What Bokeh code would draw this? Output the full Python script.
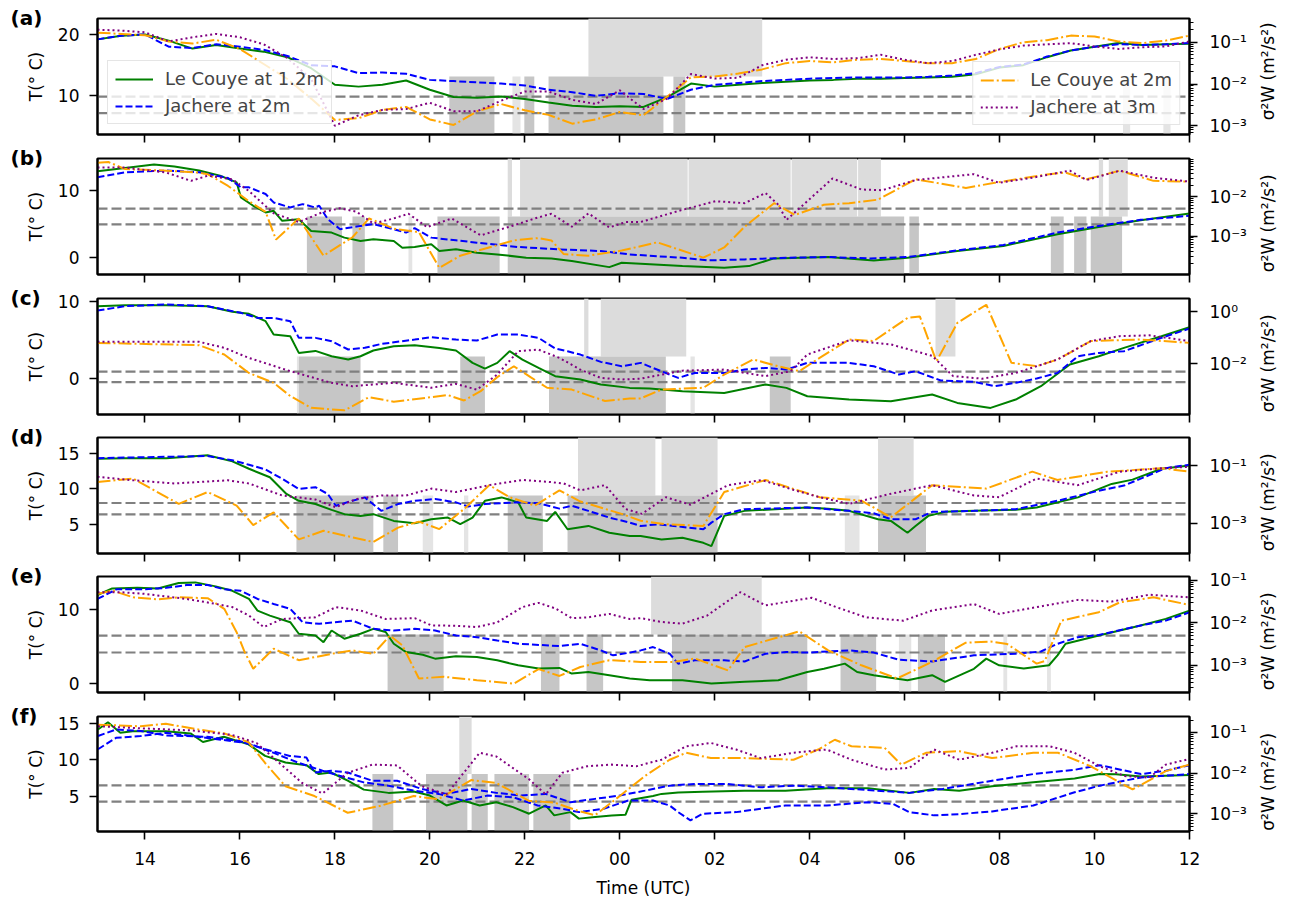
import math
import numpy as np
from bokeh.plotting import figure
from bokeh.layouts import column
from bokeh.models import (Range1d, LogScale, LogAxis, FixedTicker, CustomJSTickFormatter,
                          Legend, LegendItem)
from bokeh.embed import file_html
from bokeh.resources import INLINE

FONT = "DejaVu Sans"

# Time is in hours from 00 UTC of the first day: 13 -> 13:00, 36 -> 12:00 the next day.
# sigma^2 W values are stored as log10(m^2/s^2).

# ---------------- panel (a) ----------------
a_t = [13.0, 13.5, 14.0, 14.5, 15.0, 15.5, 16.0, 16.5, 17.0, 17.5, 18.0, 18.5, 19.0, 19.5, 20.0, 20.5,
       21.0, 21.5, 22.0, 22.5, 23.0, 23.5, 24.0, 24.5, 25.0, 25.5, 26.0, 26.5, 27.0, 27.5, 28.0, 28.5,
       29.0, 29.5, 30.0, 30.5, 31.0, 31.5, 32.0, 32.5, 33.0, 33.5, 34.0, 34.5, 35.0, 35.5, 36.0]
a_couye_T = [19.2, 19.8, 20.0, 19.0, 17.7, 18.3, 17.7, 17.2, 16.3, 14.5, 11.8, 11.5, 11.8, 12.5, 11.0, 9.8,
             9.7, 9.9, 9.5, 8.9, 8.4, 8.2, 8.3, 8.2, 9.8, 12.0, 11.5, 11.8, 12.1, 12.3, 12.5, 12.6,
             12.8, 12.8, 12.9, 13.0, 13.1, 13.5, 14.6, 15.0, 16.3, 17.4, 18.0, 18.6, 18.3, 18.4, 18.5]
a_jachere_T = [19.2, 19.8, 20.0, 18.0, 17.8, 18.4, 18.0, 17.5, 16.5, 15.0, 14.8, 13.7, 13.8, 13.6, 12.6, 12.4,
               12.2, 12.0, 11.7, 11.0, 10.6, 10.0, 10.4, 10.3, 9.5, 11.0, 11.8, 12.1, 12.4, 12.6, 12.8, 12.9,
               13.0, 13.0, 13.0, 13.1, 13.3, 13.7, 14.7, 15.1, 16.4, 17.4, 18.0, 18.4, 18.3, 18.4, 18.6]
a_couye_sw = [-0.77, -0.80, -0.83, -0.98, -1.03, -0.94, -1.16, -1.52, -1.88, -2.35, -2.86, -2.82, -2.62, -2.55,
              -2.85, -2.98, -2.65, -2.48, -2.63, -2.74, -2.95, -2.85, -2.67, -2.75, -2.30, -1.84, -1.82, -1.75,
              -1.65, -1.50, -1.45, -1.48, -1.42, -1.40, -1.45, -1.50, -1.50, -1.40, -1.16, -1.00, -0.95, -0.84,
              -0.86, -0.98, -1.02, -0.96, -0.84]
a_jachere_sw = [-0.70, -0.72, -0.76, -0.98, -0.88, -0.80, -0.88, -1.05, -1.38, -1.88, -3.00, -2.75, -2.62, -2.60,
                -2.45, -2.65, -2.65, -2.40, -2.18, -2.18, -2.38, -2.48, -2.15, -2.60, -2.35, -1.76, -1.87, -1.85,
                -1.55, -1.42, -1.36, -1.40, -1.38, -1.30, -1.42, -1.50, -1.45, -1.30, -1.17, -1.08, -1.05, -1.02,
                -1.10, -1.16, -1.12, -1.10, -0.98]
a_low = [(20.41, 21.36), (21.99, 22.2), (22.5, 24.92), (25.13, 25.38)]
a_faint = [(21.74, 21.91), (34.6, 34.75), (35.45, 35.6)]
a_high = [(23.34, 27.0)]

# ---------------- panel (b) ----------------
b_couye_T_t = [13.0, 13.58, 14.19, 14.62, 15.14, 15.58, 15.93, 16.02, 16.28, 16.54, 16.71, 16.89, 17.24, 17.5,
               17.93, 18.2, 18.54, 18.81, 19.24, 19.42, 19.68, 20.03, 20.2, 20.55, 20.99, 21.42, 22.03, 22.56,
               22.99, 23.78, 24.04, 24.44, 25.32, 26.2, 26.72, 27.25, 28.39, 29.35, 30.06, 31.11, 32.08, 33.22,
               34.09, 34.97, 36.0]
b_couye_T = [12.9, 13.4, 13.9, 13.6, 13.0, 12.25, 11.25, 9.0, 7.75, 6.75, 7.0, 5.5, 5.75, 4.0, 3.75, 3.0, 2.5,
             2.75, 2.5, 1.5, 1.6, 2.0, 1.0, 1.25, 0.75, 0.5, 0.0, -0.1, -0.5, -1.4, -0.75, -0.9, -1.25, -1.5,
             -1.25, -0.1, 0.1, -0.4, 0.0, 1.0, 1.75, 3.5, 4.6, 5.6, 6.6]
b_jachere_T_t = [13.0, 13.58, 14.45, 15.14, 15.75, 16.02, 16.19, 16.54, 16.71, 17.06, 17.32, 17.58, 17.67, 17.85,
                 18.11, 18.54, 18.81, 19.16, 19.5, 19.68, 20.03, 20.55, 20.99, 21.86, 22.73, 23.6, 24.21, 24.6,
                 25.32, 25.84, 26.63, 27.51, 28.39, 29.27, 30.06, 31.11, 32.08, 33.22, 34.09, 34.97, 36.0]
b_jachere_T = [12.0, 12.75, 13.0, 12.75, 11.9, 10.5, 10.5, 9.5, 8.25, 7.5, 8.0, 7.5, 7.75, 5.75, 4.25, 4.75, 5.0,
               4.4, 3.75, 4.4, 3.0, 2.6, 2.25, 1.6, 1.25, 1.0, 0.5, 0.3, 0.0, -0.4, -0.25, 0.0, 0.1, -0.1, 0.1,
               1.1, 1.9, 3.75, 4.75, 5.65, 6.25]
b_couye_sw_t = [13.0, 13.23, 13.58, 14.45, 15.14, 15.32, 15.75, 16.19, 16.54, 16.76, 17.24, 17.76, 18.37, 18.72,
                19.24, 19.77, 20.2, 20.64, 21.77, 22.29, 22.56, 22.82, 23.34, 24.04, 24.79, 25.76, 26.2, 26.63,
                27.25, 27.69, 28.3, 28.83, 29.44, 30.23, 31.29, 31.9, 33.04, 33.39, 33.83, 34.53, 35.24, 36.0]
b_couye_sw = [-1.13, -1.11, -1.29, -1.33, -1.38, -1.42, -1.72, -2.11, -2.38, -3.09, -2.55, -3.50, -3.03, -2.55,
              -2.81, -2.90, -3.81, -3.50, -3.11, -3.05, -3.11, -3.46, -3.50, -3.37, -3.16, -3.55, -3.29, -2.76,
              -2.16, -2.46, -2.20, -2.16, -2.07, -1.55, -1.77, -1.64, -1.42, -1.38, -1.55, -1.33, -1.59, -1.61]
b_jachere_sw_t = [13.0, 13.58, 14.45, 14.97, 15.32, 15.84, 16.19, 16.71, 17.24, 17.76, 18.11, 18.46, 18.81, 19.24,
                  19.55, 19.94, 20.46, 21.07, 21.68, 22.21, 22.56, 22.99, 23.34, 23.78, 24.13, 24.44, 25.32, 26.02,
                  26.63, 27.07, 27.34, 27.51, 28.48, 29.09, 29.53, 30.23, 31.46, 31.99, 32.69, 33.48, 33.83, 34.53,
                  35.24, 36.0]
b_jachere_sw = [-1.25, -1.25, -1.38, -1.59, -1.46, -1.55, -1.85, -2.42, -2.64, -2.38, -2.29, -2.38, -2.68, -2.55,
                -2.43, -2.77, -2.55, -2.98, -2.76, -2.55, -2.43, -2.76, -2.42, -2.78, -2.64, -2.64, -2.33, -2.11,
                -2.16, -1.90, -2.20, -2.59, -1.53, -1.81, -1.83, -1.57, -1.42, -1.64, -1.51, -1.33, -1.57, -1.33,
                -1.51, -1.61]
b_low = [(17.41, 18.15), (18.37, 18.63), (20.16, 21.47), (21.64, 29.99), (30.1, 30.3), (33.08, 33.35),
         (33.57, 33.83), (33.92, 34.58)]
b_faint = [(19.55, 19.63)]
b_high = [(21.64, 21.73), (21.9, 25.43), (25.45, 27.6), (27.62, 29.0), (29.02, 29.5), (34.09, 34.18), (34.3, 34.7)]

# ---------------- panel (c) ----------------
c_couye_T_t = [13.0, 13.58, 14.45, 15.32, 15.84, 16.19, 16.54, 16.71, 17.06, 17.24, 17.59, 17.93, 18.28, 18.54,
               18.81, 19.24, 19.68, 20.2, 20.55, 20.9, 21.16, 21.42, 21.68, 21.95, 22.29, 22.64, 23.17, 23.6, 24.21,
               24.63, 25.32, 26.2, 27.07, 27.51, 27.95, 28.83, 29.71, 30.58, 31.11, 31.81, 32.34, 32.87, 33.48,
               34.09, 34.62, 35.41, 36.0]
c_couye_T = [9.43, 9.55, 9.55, 9.43, 8.69, 8.43, 7.47, 5.73, 5.5, 3.34, 3.6, 2.9, 2.47, 2.9, 3.65, 4.21, 4.34,
             3.99, 3.65, 2.04, 1.3, 2.04, 3.56, 2.47, 1.38, 0.3, -0.13, -0.78, -1.22, -1.3, -1.66, -1.88, -0.78,
             -1.22, -2.31, -2.74, -2.96, -2.09, -3.18, -3.83, -2.74, -1.0, 1.83, 2.9, 3.99, 5.51, 6.69]
c_jachere_T_t = [13.0, 13.58, 14.45, 15.32, 16.02, 16.37, 16.71, 17.06, 17.24, 17.59, 17.93, 18.28, 18.63, 18.98,
                 19.68, 20.03, 20.55, 20.99, 21.42, 21.86, 22.29, 22.64, 22.9, 23.17, 23.6, 24.04, 24.44, 24.7,
                 25.23, 25.58, 26.2, 26.63, 27.07, 27.51, 27.95, 28.83, 29.35, 29.88, 30.23, 30.76, 31.46, 31.9,
                 32.34, 32.78, 33.22, 33.65, 34.09, 34.62, 35.41, 36.0]
c_jachere_T = [8.86, 9.43, 9.65, 9.43, 8.56, 7.9, 7.9, 7.47, 5.3, 5.3, 4.86, 3.78, 4.0, 4.51, 5.08, 5.38, 5.08,
               4.95, 5.73, 5.73, 5.3, 3.91, 3.56, 3.12, 2.17, 1.6, 2.04, 1.38, 0.08, 0.73, 0.73, 1.17, 1.38, 1.17,
               2.04, 2.04, 1.6, 0.52, 0.95, -0.26, -0.43, -1.0, -0.56, 0.0, 0.73, 2.9, 3.34, 3.56, 5.3, 6.52]
c_couye_sw_t = [13.0, 15.14, 15.67, 16.19, 16.71, 17.06, 17.5, 18.2, 18.37, 18.72, 19.24, 20.03, 20.38, 20.72,
                21.07, 21.42, 21.77, 22.12, 22.47, 22.99, 23.69, 24.21, 24.44, 24.88, 25.76, 26.2, 26.81, 27.34,
                27.78, 28.21, 28.83, 29.35, 30.06, 30.32, 30.67, 31.11, 31.72, 32.25, 32.78, 33.22, 33.92, 34.97,
                36.0]
c_couye_sw = [-1.19, -1.28, -1.64, -2.35, -2.73, -3.24, -3.69, -3.79, -3.63, -3.28, -3.46, -3.28, -3.2, -3.41,
              -3.05, -2.51, -2.09, -2.51, -2.92, -2.99, -3.43, -3.33, -3.33, -2.99, -2.92, -2.41, -1.83, -2.09,
              -2.28, -1.77, -1.06, -1.12, -0.23, -0.17, -1.9, -0.42, 0.28, -1.96, -2.09, -1.83, -1.12, -1.06, -1.19]
c_jachere_sw_t = [13.0, 15.14, 15.67, 16.19, 17.06, 17.93, 18.37, 19.24, 20.03, 20.55, 20.99, 21.42, 21.86, 22.29,
                  22.73, 23.17, 23.6, 24.04, 24.44, 25.32, 26.2, 27.07, 27.6, 27.95, 28.83, 29.71, 30.58, 31.02,
                  31.63, 32.34, 33.22, 33.92, 34.53, 35.15, 36.0]
c_jachere_sw = [-1.15, -1.15, -1.38, -1.77, -2.28, -2.73, -2.86, -2.73, -2.92, -2.77, -2.99, -2.41, -1.51, -1.45,
                -1.77, -2.22, -2.54, -2.6, -2.57, -2.26, -2.22, -2.47, -2.28, -1.64, -1.09, -1.25, -1.69, -2.47,
                -2.57, -2.35, -1.83, -1.12, -0.93, -0.9, -1.12]
c_low = [(17.24, 18.54), (20.64, 21.16), (22.51, 24.97), (27.16, 27.6)]
c_faint = [(17.2, 17.24), (25.49, 25.58)]
c_high = [(23.25, 23.34), (23.6, 25.4), (30.65, 31.07)]

# ---------------- panel (d) ----------------
d_couye_T_t = [13.0, 13.58, 14.45, 15.32, 15.84, 16.19, 16.63, 16.98, 17.24, 17.59, 17.93, 18.2, 18.54, 18.81,
               19.24, 19.68, 20.03, 20.38, 20.64, 20.9, 21.16, 21.51, 21.86, 22.03, 22.47, 22.64, 22.9, 23.34,
               23.78, 24.21, 24.44, 24.88, 25.32, 25.76, 25.93, 26.2, 26.63, 27.95, 28.39, 28.83, 29.44, 29.71,
               30.06, 30.23, 30.5, 30.85, 31.46, 32.34, 32.78, 33.65, 34.36, 34.8, 35.41, 36.0]
d_couye_T = [14.2, 14.3, 14.3, 14.7, 13.85, 12.82, 11.63, 9.3, 8.35, 7.89, 7.08, 6.48, 6.24, 6.48, 5.54, 5.21,
             5.77, 6.0, 5.1, 6.0, 8.35, 8.82, 8.13, 6.0, 5.54, 6.8, 4.37, 4.84, 3.89, 3.42, 3.42, 2.95, 3.2, 2.48,
             2.01, 6.24, 6.94, 7.41, 7.25, 6.94, 5.77, 5.54, 3.89, 4.83, 6.24, 6.8, 6.94, 7.08, 7.41, 8.82, 10.7,
             11.3, 12.82, 13.28]
d_jachere_T_t = [13.0, 15.32, 15.84, 16.19, 16.54, 16.89, 17.24, 17.59, 17.85, 18.02, 18.37, 18.63, 18.98, 19.33,
                 19.68, 20.11, 20.55, 20.81, 21.16, 21.86, 22.29, 22.73, 22.99, 23.34, 23.78, 24.21, 24.44, 24.79,
                 25.14, 25.76, 25.93, 26.2, 26.63, 27.95, 28.83, 29.35, 29.71, 30.23, 30.58, 31.46, 32.34, 33.22,
                 34.09, 34.62, 35.5, 36.0]
d_jachere_T = [14.3, 14.6, 14.0, 13.38, 12.72, 11.41, 10.0, 10.24, 9.3, 7.65, 8.35, 8.82, 6.94, 7.89, 8.35, 8.59,
               8.13, 7.55, 7.89, 8.13, 8.0, 7.25, 7.65, 6.94, 6.0, 5.3, 4.83, 5.06, 4.83, 4.37, 5.3, 6.48, 7.18,
               7.41, 6.94, 6.6, 5.77, 5.77, 6.8, 6.94, 7.18, 8.35, 9.76, 10.47, 12.9, 13.38]
d_couye_sw_t = [13.0, 13.75, 14.71, 15.32, 15.93, 16.28, 16.71, 17.24, 17.76, 18.81, 19.33, 19.77, 20.2, 20.72,
                21.25, 21.68, 22.21, 22.73, 23.17, 24.04, 24.44, 24.97, 25.76, 26.2, 27.07, 28.21, 29.09, 29.71,
                30.58, 31.72, 32.69, 33.22, 34.27, 35.41, 36.0]
d_couye_sw = [-1.57, -1.45, -2.33, -1.92, -2.39, -3.07, -2.63, -3.57, -3.27, -3.66, -3.16, -2.95, -3.21, -2.51,
              -1.68, -2.1, -2.39, -1.86, -2.25, -2.68, -2.92, -3.04, -3.1, -1.92, -1.5, -2.1, -2.22, -2.8, -1.68,
              -1.8, -1.21, -1.5, -1.21, -1.09, -1.21]
d_jachere_sw_t = [13.0, 13.75, 14.62, 15.75, 16.19, 16.89, 17.59, 18.02, 18.46, 18.98, 19.5, 20.03, 20.55, 21.25,
                  21.95, 22.47, 22.82, 23.17, 23.69, 24.12, 24.47, 24.97, 25.49, 25.93, 26.28, 26.99, 27.69, 28.21,
                  28.83, 29.71, 30.58, 31.46, 31.99, 32.78, 33.65, 34.53, 35.41, 36.0]
d_jachere_sw = [-1.39, -1.51, -1.62, -1.51, -1.62, -2.04, -2.18, -2.45, -2.16, -2.04, -2.04, -1.8, -1.92, -1.68,
                -1.5, -1.56, -1.62, -1.86, -1.68, -2.51, -2.68, -2.1, -2.36, -1.98, -1.68, -1.5, -1.86, -2.1, -2.33,
                -1.98, -1.68, -2.04, -2.1, -1.45, -1.68, -1.21, -1.09, -1.04]
d_low = [(17.19, 18.81), (19.02, 19.33), (21.64, 22.38), (22.9, 26.06), (29.44, 30.45)]
d_faint = [(19.85, 20.07), (20.72, 20.81), (28.74, 29.05)]
d_high = [(23.12, 24.75), (24.88, 26.06), (29.44, 30.19)]

# ---------------- panel (e) ----------------
e_couye_T_t = [13.0, 13.31, 13.84, 14.27, 14.71, 15.06, 15.49, 15.84, 16.19, 16.37, 16.63, 17.06, 17.24, 17.59,
               17.76, 17.93, 18.2, 18.54, 18.81, 19.07, 19.24, 19.5, 19.85, 20.11, 20.55, 20.99, 21.42, 21.86,
               22.29, 22.73, 22.99, 23.34, 23.78, 24.21, 24.63, 25.32, 25.93, 26.63, 27.34, 27.95, 28.3, 28.74,
               29.0, 29.35, 30.06, 30.58, 30.85, 31.46, 31.72, 31.99, 32.51, 33.04, 33.22, 33.39, 34.09, 34.97,
               35.5, 36.0]
e_couye_T = [12.03, 12.92, 13.0, 12.92, 13.65, 13.74, 13.2, 12.6, 11.49, 9.9, 9.23, 8.33, 6.76, 6.53, 5.62, 7.2,
             6.08, 6.76, 7.43, 7.0, 5.4, 4.27, 3.9, 3.38, 3.72, 3.6, 3.15, 2.47, 2.03, 2.12, 1.35, 1.57, 1.13,
             0.68, 0.45, 0.45, 0.0, 0.23, 0.45, 1.57, 2.0, 2.7, 1.57, 1.13, 0.45, 1.13, 0.23, 2.0, 3.38, 2.48,
             2.03, 2.48, 3.83, 5.4, 6.53, 7.88, 8.78, 9.9]
e_jachere_T_t = [13.0, 13.4, 14.01, 14.45, 14.88, 15.32, 15.67, 16.02, 16.37, 16.71, 17.06, 17.32, 17.67, 18.37,
                 18.81, 19.24, 19.68, 20.11, 20.55, 20.99, 21.42, 21.86, 22.73, 23.17, 23.6, 23.86, 24.21, 24.44,
                 24.7, 25.05, 25.23, 25.58, 26.2, 26.63, 27.07, 27.51, 27.95, 28.83, 29.35, 29.88, 30.58, 31.46,
                 32.34, 32.87, 33.22, 33.65, 34.09, 34.97, 35.5, 36.0]
e_jachere_T = [11.49, 12.8, 12.8, 13.0, 13.38, 13.38, 12.8, 12.6, 11.49, 10.81, 10.14, 8.33, 8.11, 8.55, 7.43,
               7.2, 7.43, 7.2, 6.53, 6.3, 5.85, 5.4, 5.09, 5.4, 4.5, 3.83, 4.2, 4.5, 4.95, 4.05, 2.7, 3.15, 3.15,
               3.0, 4.05, 4.28, 4.2, 4.5, 4.2, 3.23, 3.0, 3.83, 4.05, 4.35, 5.4, 6.3, 6.6, 7.88, 8.55, 9.68]
e_couye_sw_t = [13.0, 13.31, 13.75, 14.27, 14.71, 15.32, 15.67, 15.93, 16.1, 16.28, 16.71, 17.24, 17.93, 18.37,
                18.81, 19.16, 19.42, 19.77, 20.29, 20.99, 21.77, 22.29, 22.73, 23.17, 23.78, 24.44, 25.14, 25.58,
                26.28, 26.63, 27.78, 28.39, 29.09, 29.84, 30.58, 31.28, 31.81, 32.16, 32.78, 32.95, 33.3, 34.09,
                34.53, 35.24, 36.0]
e_couye_sw = [-1.32, -1.24, -1.40, -1.45, -1.40, -1.42, -1.67, -2.22, -2.69, -3.08, -2.61, -2.88, -2.73, -2.65,
              -2.73, -2.3, -2.53, -3.31, -3.27, -3.35, -3.43, -3.09, -3.25, -3.04, -2.88, -2.92, -2.92, -2.84,
              -3.12, -2.57, -2.2, -2.65, -3.0, -3.31, -2.92, -2.47, -2.44, -2.5, -2.96, -2.9, -1.95, -1.75, -1.52,
              -1.4, -1.58]
e_jachere_sw_t = [13.0, 13.49, 14.01, 14.88, 15.32, 15.84, 16.19, 16.5, 16.89, 17.59, 18.02, 18.54, 19.07, 19.68,
                  20.03, 20.55, 20.99, 21.42, 21.95, 22.29, 22.64, 22.99, 23.34, 23.78, 24.21, 24.44, 24.88, 25.32,
                  25.84, 26.54, 27.07, 28.04, 28.56, 29.18, 29.97, 30.58, 31.46, 31.99, 32.78, 33.65, 34.36, 35.15,
                  36.0]
e_jachere_sw = [-1.28, -1.28, -1.32, -1.44, -1.52, -1.63, -1.83, -2.1, -1.91, -1.87, -1.63, -1.71, -1.91, -1.89,
                -2.06, -2.07, -2.1, -1.99, -1.63, -1.53, -1.66, -1.89, -1.87, -1.79, -1.91, -1.89, -1.98, -2.02,
                -1.83, -1.28, -1.59, -1.41, -1.63, -1.87, -1.95, -1.71, -1.56, -1.79, -1.63, -1.46, -1.5, -1.34,
                -1.4]
e_low = [(19.11, 20.29), (22.34, 22.73), (23.3, 23.65), (25.1, 27.95), (28.65, 29.4), (30.28, 30.85)]
e_faint = [(29.88, 30.14), (32.08, 32.16), (33.0, 33.08)]
e_high = [(24.66, 26.99)]

# ---------------- panel (f) ----------------
f_couye_T_t = [13.01, 13.22, 13.48, 13.74, 14.44, 14.96, 15.22, 15.66, 16.18, 16.53, 16.96, 17.4, 17.66, 17.92,
               18.27, 18.61, 19.13, 19.66, 20.0, 20.35, 20.7, 21.05, 21.4, 21.75, 22.09, 22.44, 22.62, 22.96,
               23.14, 23.48, 23.83, 24.12, 24.25, 24.7, 24.88, 25.23, 25.75, 26.62, 27.49, 28.36, 29.23, 30.1,
               30.62, 31.15, 31.84, 32.71, 33.58, 34.11, 34.45, 34.98, 36.0]
f_couye_T = [14.2, 15.2, 13.74, 13.97, 13.97, 13.66, 12.47, 13.19, 12.15, 10.55, 9.63, 9.27, 8.04, 8.26, 7.12,
             5.89, 5.44, 5.62, 5.07, 3.7, 4.38, 3.7, 4.15, 3.47, 2.56, 3.7, 2.33, 2.78, 1.88, 2.1, 2.3, 2.4, 4.5,
             5.0, 5.3, 5.5, 5.6, 5.75, 5.75, 6.07, 6.07, 5.44, 5.98, 5.75, 6.35, 6.9, 7.44, 8.04, 8.0, 7.71, 7.9]
f_jachere_T_t = [13.01, 13.39, 13.91, 14.44, 15.31, 16.0, 16.53, 17.05, 17.4, 17.57, 17.92, 18.27, 18.79, 19.31,
                 19.83, 20.35, 20.87, 21.4, 21.92, 22.44, 22.96, 23.48, 24.0, 24.53, 25.05, 25.57, 26.27, 26.97,
                 27.66, 28.36, 29.41, 30.1, 30.8, 31.84, 32.71, 33.58, 34.11, 34.98, 35.5, 36.0]
f_jachere_T = [13.3, 14.2, 14.0, 13.38, 13.2, 12.6, 11.47, 10.55, 10.32, 8.26, 8.5, 8.26, 7.12, 7.12, 5.98, 5.3,
               5.98, 5.44, 5.07, 5.3, 4.15, 4.61, 5.07, 5.75, 6.44, 6.67, 6.67, 6.21, 6.44, 6.21, 5.75, 5.44,
               5.98, 7.12, 8.04, 8.63, 9.27, 8.04, 8.5, 9.27]
f_jachere_T2_t = [13.01, 13.39, 13.91, 14.44, 15.48, 16.18, 16.7, 17.22, 17.74, 18.1, 18.61, 19.13, 19.66, 20.18,
                  20.7, 21.22, 21.75, 22.27, 22.79, 23.14, 23.66, 24.18, 24.7, 25.05, 25.23, 25.49, 25.75, 26.45,
                  26.97, 27.49, 28.36, 29.23, 29.76, 30.1, 30.62, 31.15, 31.84, 32.71, 33.58, 34.11, 34.98, 36.0]
f_jachere_T2 = [11.47, 13.05, 13.3, 13.74, 12.9, 12.29, 11.0, 9.63, 8.5, 7.81, 6.89, 6.44, 5.75, 5.3, 4.38, 5.07,
                4.84, 3.7, 3.25, 2.78, 3.25, 4.38, 4.38, 3.7, 2.78, 1.64, 2.56, 2.78, 3.25, 3.7, 3.7, 4.15, 3.9,
                2.78, 2.33, 2.5, 2.88, 3.7, 5.52, 6.44, 7.58, 8.04]
f_couye_sw_t = [13.01, 13.91, 14.44, 15.13, 15.66, 16.18, 16.53, 16.96, 17.57, 18.27, 18.96, 19.66, 20.18, 20.87,
                21.4, 22.09, 22.62, 23.14, 23.48, 24.0, 24.53, 25.05, 25.4, 25.92, 26.62, 27.66, 28.18, 28.53,
                28.88, 29.58, 29.93, 30.45, 31.15, 31.84, 32.71, 33.23, 33.92, 34.8, 35.5, 36.0]
f_couye_sw = [-0.81, -0.85, -0.79, -0.93, -1.02, -1.24, -1.75, -2.32, -2.56, -2.97, -2.80, -2.56, -2.64, -2.17,
              -2.24, -2.68, -2.72, -2.93, -3.03, -2.56, -2.07, -1.67, -1.50, -1.63, -1.63, -1.67, -1.42, -1.18,
              -1.34, -1.38, -1.79, -1.50, -1.46, -1.63, -1.50, -1.50, -1.83, -2.40, -1.95, -1.79]
f_jachere_sw_t = [13.01, 13.91, 14.96, 15.83, 16.35, 16.87, 17.31, 17.74, 18.27, 18.79, 19.31, 19.83, 20.35,
                  21.05, 21.4, 22.09, 22.44, 22.79, 23.31, 23.83, 24.35, 24.88, 25.4, 25.92, 26.45, 26.97, 27.66,
                  28.36, 28.88, 29.58, 30.1, 30.62, 31.15, 31.84, 32.36, 33.06, 33.58, 34.11, 34.63, 35.15, 35.5,
                  36.0]
f_jachere_sw = [-0.85, -0.90, -0.95, -1.06, -1.26, -1.79, -2.24, -2.50, -1.99, -1.79, -1.81, -2.32, -2.52, -1.50,
                -1.59, -2.15, -2.52, -1.99, -1.83, -1.79, -1.83, -1.67, -1.34, -1.26, -1.42, -1.63, -1.50, -1.42,
                -1.67, -1.91, -1.87, -1.42, -1.67, -1.50, -1.34, -1.34, -1.50, -1.83, -2.07, -2.11, -1.79, -1.65]
f_low = [(18.79, 19.23), (19.92, 20.79), (20.88, 21.22), (21.36, 22.09), (22.18, 22.96)]
f_faint = []
f_high = [(20.62, 20.88)]

# sigma^2 W reference levels (m^2/s^2) drawn as dashed lines
sw_levels = [5e-3, 2e-3]

hour_ticks = [14, 16, 18, 20, 22, 24, 26, 28, 30, 32, 34, 36]

X_RANGE = Range1d(13, 36)
MINOR_LOG = [m * 10.0 ** k for k in range(-5, 1) for m in range(2, 10)]
SW_LABEL = "σ²W (m²/s²)"

panels = [
    dict(letter="(a)", t_lim=(3.7, 22.6), sw_lim=(-3.21, -0.43), t_ticks=[10, 20], sw_ticks=[1e-3, 1e-2, 1e-1],
         minor=True, top=18, bottom=12, fh=116,
         couye_T=(a_t, a_couye_T), jachere_T=[(a_t, a_jachere_T)],
         couye_sw=(a_t, a_couye_sw), jachere_sw=(a_t, a_jachere_sw), low=a_low, faint=a_faint, high=a_high),
    dict(letter="(b)", t_lim=(-2.5, 14.8), sw_lim=(-3.98, -1.02), t_ticks=[0, 10], sw_ticks=[1e-3, 1e-2],
         minor=True, top=12, bottom=12, fh=116,
         couye_T=(b_couye_T_t, b_couye_T), jachere_T=[(b_jachere_T_t, b_jachere_T)],
         couye_sw=(b_couye_sw_t, b_couye_sw), jachere_sw=(b_jachere_sw_t, b_jachere_sw),
         low=b_low, faint=b_faint, high=b_high),
    dict(letter="(c)", t_lim=(-4.69, 10.43), sw_lim=(-3.95, 0.52), t_ticks=[0, 10], sw_ticks=[1e-2, 1e0],
         minor=False, top=12, bottom=11, fh=116,
         couye_T=(c_couye_T_t, c_couye_T), jachere_T=[(c_jachere_T_t, c_jachere_T)],
         couye_sw=(c_couye_sw_t, c_couye_sw), jachere_sw=(c_jachere_sw_t, c_jachere_sw),
         low=c_low, faint=c_faint, high=c_high),
    dict(letter="(d)", t_lim=(0.99, 17.18), sw_lim=(-4.06, -0.02), t_ticks=[5, 10, 15], sw_ticks=[1e-3, 1e-1],
         minor=False, top=12, bottom=11, fh=116,
         couye_T=(d_couye_T_t, d_couye_T), jachere_T=[(d_jachere_T_t, d_jachere_T)],
         couye_sw=(d_couye_sw_t, d_couye_sw), jachere_sw=(d_jachere_sw_t, d_jachere_sw),
         low=d_low, faint=d_faint, high=d_high),
    dict(letter="(e)", t_lim=(-1.22, 14.54), sw_lim=(-3.64, -0.91), t_ticks=[0, 10],
         sw_ticks=[1e-3, 1e-2, 1e-1], minor=True, top=12, bottom=12, fh=116,
         couye_T=(e_couye_T_t, e_couye_T), jachere_T=[(e_jachere_T_t, e_jachere_T)],
         couye_sw=(e_couye_sw_t, e_couye_sw), jachere_sw=(e_jachere_sw_t, e_jachere_sw),
         low=e_low, faint=e_faint, high=e_high),
    dict(letter="(f)", t_lim=(0.1, 16.0), sw_lim=(-3.43, -0.61), t_ticks=[5, 10, 15],
         sw_ticks=[1e-3, 1e-2, 1e-1], minor=True, top=12, bottom=70, fh=115,
         couye_T=(f_couye_T_t, f_couye_T),
         jachere_T=[(f_jachere_T_t, f_jachere_T), (f_jachere_T2_t, f_jachere_T2)],
         couye_sw=(f_couye_sw_t, f_couye_sw), jachere_sw=(f_jachere_sw_t, f_jachere_sw),
         low=f_low, faint=f_faint, high=f_high),
]

SUP = CustomJSTickFormatter(code="""
const e = Math.round(Math.log10(tick));
const sup = {"-": "\u207b", "0": "\u2070", "1": "\u00b9", "2": "\u00b2", "3": "\u00b3", "4": "\u2074"};
return "10" + String(e).split("").map(c => sup[c]).join("");
""")
HOURS = CustomJSTickFormatter(code="return String(tick % 24).padStart(2, '0');")
SW_NAME = CustomJSTickFormatter(args=dict(name=SW_LABEL), code="return name;")


def add_bands(p, spans, y0, y1, color):
    if not spans:
        return
    p.quad(left=[s for s, _ in spans], right=[e for _, e in spans],
           bottom=[y0] * len(spans), top=[y1] * len(spans),
           fill_color=color, line_color=None)


def style_axis(ax):
    ax.axis_line_width = 2
    ax.major_tick_line_width = 1.6
    ax.minor_tick_line_width = 1.2
    ax.major_tick_in = 0
    ax.minor_tick_in = 0
    ax.major_tick_out = 8
    ax.minor_tick_out = 4
    ax.major_label_text_font = FONT
    ax.major_label_text_font_size = "17px"
    ax.major_label_text_color = "black"
    ax.axis_label_text_font = FONT
    ax.axis_label_text_font_style = "normal"
    ax.axis_label_text_font_size = "17px"
    ax.axis_label_text_color = "black"


figs = []
for i, cfg in enumerate(panels):
    last = i == len(panels) - 1
    lo, hi = cfg["t_lim"]
    s_lo, s_hi = cfg["sw_lim"]
    p = figure(frame_width=1092, frame_height=cfg["fh"], x_range=X_RANGE, y_range=Range1d(lo, hi),
               output_backend="svg", toolbar_location=None,
               min_border_left=97, min_border_right=104,
               min_border_top=cfg["top"], min_border_bottom=cfg["bottom"],
               outline_line_color="black", outline_line_width=2,
               background_fill_color="white", border_fill_color="white")
    p.grid.visible = False
    p.extra_y_ranges = {"sw": Range1d(10 ** s_lo, 10 ** s_hi)}
    p.extra_y_scales = {"sw": LogScale()}

    # panel letter, left of the frame and centred on its top edge
    p.title.text = cfg["letter"]
    p.title_location = "above"
    p.title.align = "left"
    p.title.vertical_align = "bottom"
    p.title.offset = -87
    p.title.standoff = -22
    p.title.text_font = FONT
    p.title.text_font_size = "20px"
    p.title.text_font_style = "bold"
    p.title.text_color = "black"

    mid = (lo + hi) / 2
    add_bands(p, cfg["high"], mid, hi, "#dcdcdc")
    add_bands(p, cfg["faint"], lo, mid, "#e4e4e4")
    add_bands(p, cfg["low"], lo, mid, "#c6c6c6")

    for lvl in sw_levels:
        p.line([13, 36], [lvl, lvl], y_range_name="sw", line_color="gray",
               line_width=2.2, line_dash="10 4")

    r_green = p.line(cfg["couye_T"][0], cfg["couye_T"][1], line_color="green", line_width=2)
    r_blue = None
    for tt, vv in cfg["jachere_T"]:
        rb = p.line(tt, vv, line_color="blue", line_width=2, line_dash="7 3")
        r_blue = r_blue or rb
    r_orange = p.line(cfg["couye_sw"][0], 10 ** np.array(cfg["couye_sw"][1]), y_range_name="sw",
                      line_color="orange", line_width=2, line_dash="13 3 2 3")
    r_purple = p.line(cfg["jachere_sw"][0], 10 ** np.array(cfg["jachere_sw"][1]), y_range_name="sw",
                      line_color="purple", line_width=2, line_dash="2 3")

    # left temperature axis
    ya = p.yaxis[0]
    ya.ticker = FixedTicker(ticks=cfg["t_ticks"])
    ya.axis_label = "T(° C)"
    style_axis(ya)
    ya.major_label_standoff = 10
    ya.axis_label_standoff = 9

    # right sigma^2 W axis
    ra = LogAxis(y_range_name="sw",
                 ticker=FixedTicker(ticks=cfg["sw_ticks"], minor_ticks=MINOR_LOG if cfg["minor"] else []),
                 formatter=SUP)
    style_axis(ra)
    ra.major_label_standoff = 12
    p.add_layout(ra, "right")

    # its title, set as one upright tick label at mid-height so that it reads bottom to top
    name_ax = LogAxis(y_range_name="sw", ticker=FixedTicker(ticks=[10 ** ((s_lo + s_hi) / 2)]),
                      formatter=SW_NAME)
    style_axis(name_ax)
    name_ax.axis_line_color = None
    name_ax.major_tick_line_color = None
    name_ax.major_tick_out = 0
    name_ax.major_label_standoff = 19
    name_ax.major_label_orientation = math.pi / 2
    p.add_layout(name_ax, "right")

    xa = p.xaxis[0]
    xa.ticker = FixedTicker(ticks=hour_ticks)
    xa.formatter = HOURS
    style_axis(xa)
    if last:
        xa.axis_label = "Time (UTC)"
        xa.major_label_standoff = 12
        xa.axis_label_standoff = 10
    else:
        xa.major_label_text_font_size = "0px"
        xa.major_label_standoff = 0

    if i == 0:
        common = dict(label_text_font=FONT, label_text_font_size="18px", glyph_width=38, glyph_height=18,
                      label_standoff=12, spacing=6, padding=7, label_height=20,
                      border_line_color="#cccccc", border_line_width=1, background_fill_alpha=0.8)
        leg_l = Legend(items=[LegendItem(label="Le Couye at 1.2m", renderers=[r_green]),
                              LegendItem(label="Jachere at 2m", renderers=[r_blue])],
                       location="bottom_left", margin=10, **common)
        leg_r = Legend(items=[LegendItem(label="Le Couye at 2m", renderers=[r_orange]),
                              LegendItem(label="Jachere at 3m", renderers=[r_purple])],
                       location="bottom_right", margin=9, **common)
        p.add_layout(leg_l)
        p.add_layout(leg_r)

    figs.append(p)

layout = column(*figs)
open("out.html", "w").write(file_html(layout, INLINE))
